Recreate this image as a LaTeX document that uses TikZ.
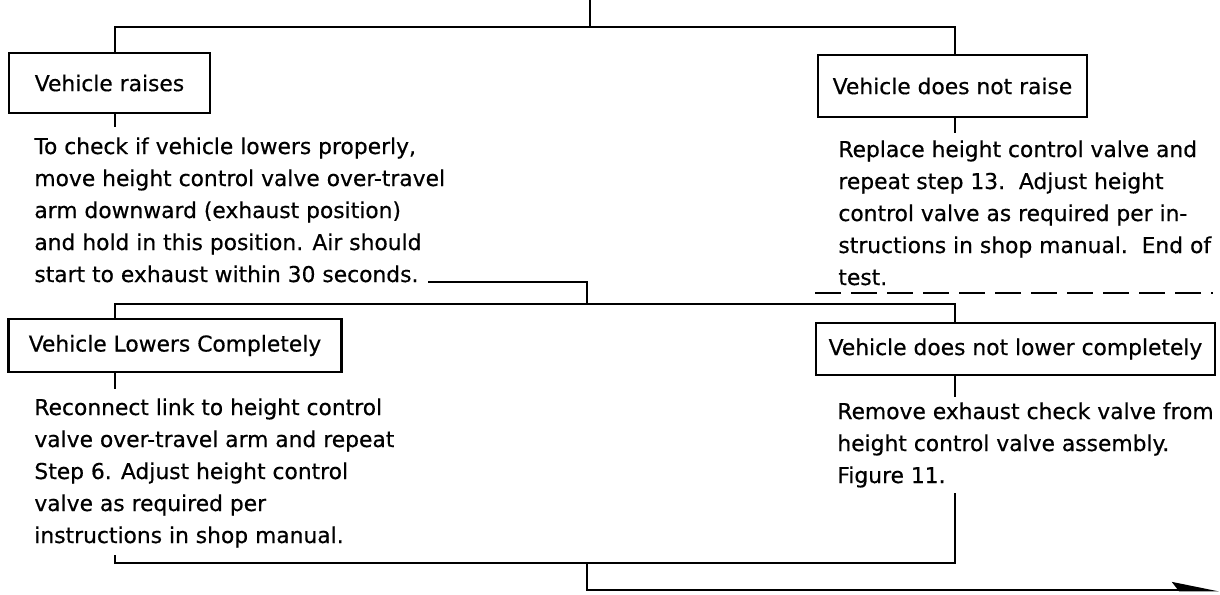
\documentclass[tikz,border=0pt]{standalone}
\usepackage{fontspec}
\setmainfont{DejaVu Sans}[FakeBold=0.5]
\usetikzlibrary{arrows.meta}
\tikzstyle{result} = [draw, line width=2.8pt, inner sep=0pt, font=\fontsize{21.8}{32}\selectfont]
\tikzstyle{steptext} = [inner sep=0pt, anchor=base west, align=left, font=\fontsize{21.8}{32}\selectfont]
\tikzstyle{arrow} = [-{Stealth[harpoon,length=40pt,width=16pt,inset=6pt]}]

\begin{document}
\begin{tikzpicture}[x=1pt, y=-1pt, line width=2.8pt]
        \useasboundingbox (0,0) rectangle (1220,594);

        % outcome boxes
        \node[result, minimum width=201pt, minimum height=60pt] (raise) at (109.5,83) {Vehicle raises};
        \node[result, minimum width=269pt, minimum height=62pt] (noraise) at (952.5,86) {Vehicle does not raise};
        \node[result, minimum width=333pt, minimum height=53pt] (lowers) at (175,345.5) {Vehicle Lowers Completely};
        \node[result, minimum width=399pt, minimum height=52pt] (nolower) at (1015.5,349) {Vehicle does not lower completely};

        % instructions (anchored at the last baseline)
        \node[steptext] (raisetxt) at (33,282) {To check if vehicle lowers properly,\\
          move height control valve over-travel\\
          arm downward (exhaust position)\\
          and hold in this position. Air should\\
          start to exhaust within 30 seconds.};
        \node[steptext] (noraisetxt) at (837,285) {Replace height control valve and\\
          repeat step 13.\ \ Adjust height\\
          control valve as required per in-\\
          structions in shop manual.\ \ End of\\
          test.};
        \node[steptext] (lowerstxt) at (33,543) {Reconnect link to height control\\
          valve over-travel arm and repeat\\
          Step 6. Adjust height control\\
          valve as required per\\
          instructions in shop manual.};
        \node[steptext] (nolowertxt) at (836,483) {Remove exhaust check valve from\\
          height control valve assembly.\\
          Figure 11.};

        % junctions
        \coordinate (leftcol) at (115,0);
        \coordinate (rightcol) at (955,0);
        \coordinate (top) at (590,0);
        \coordinate (split1) at (590,27);
        \coordinate (sec) at (428,282);
        \coordinate (split2) at (587,304);
        \coordinate (manual) at (115,555);
        \coordinate (split3) at (587,563);
        \coordinate (fig) at (955,493);
        \coordinate (out) at (1219,590);
        \coordinate (dashstart) at (815,293);
        \coordinate (dashend) at (1213,293);

        % connectors
        \draw (top) -- (split1);
        \draw (raise.north -| leftcol) |- (split1) -| (noraise.north -| rightcol);
        \draw (raise.south -| leftcol) -- ++(0,13);
        \draw (noraise.south -| rightcol) -- ++(0,15);
        \draw (sec) -| (split2);
        \draw (lowers.north -| leftcol) |- (split2) -| (nolower.north -| rightcol);
        \draw (lowers.south -| leftcol) -- ++(0,16);
        \draw (nolower.south -| rightcol) -- ++(0,21);
        \draw (manual) |- (split3) -| (fig);
        \draw[arrow] (split3) |- (out);
        \draw[dash pattern=on 26pt off 10pt] (dashstart) -- (dashend);
\end{tikzpicture}
\end{document}
